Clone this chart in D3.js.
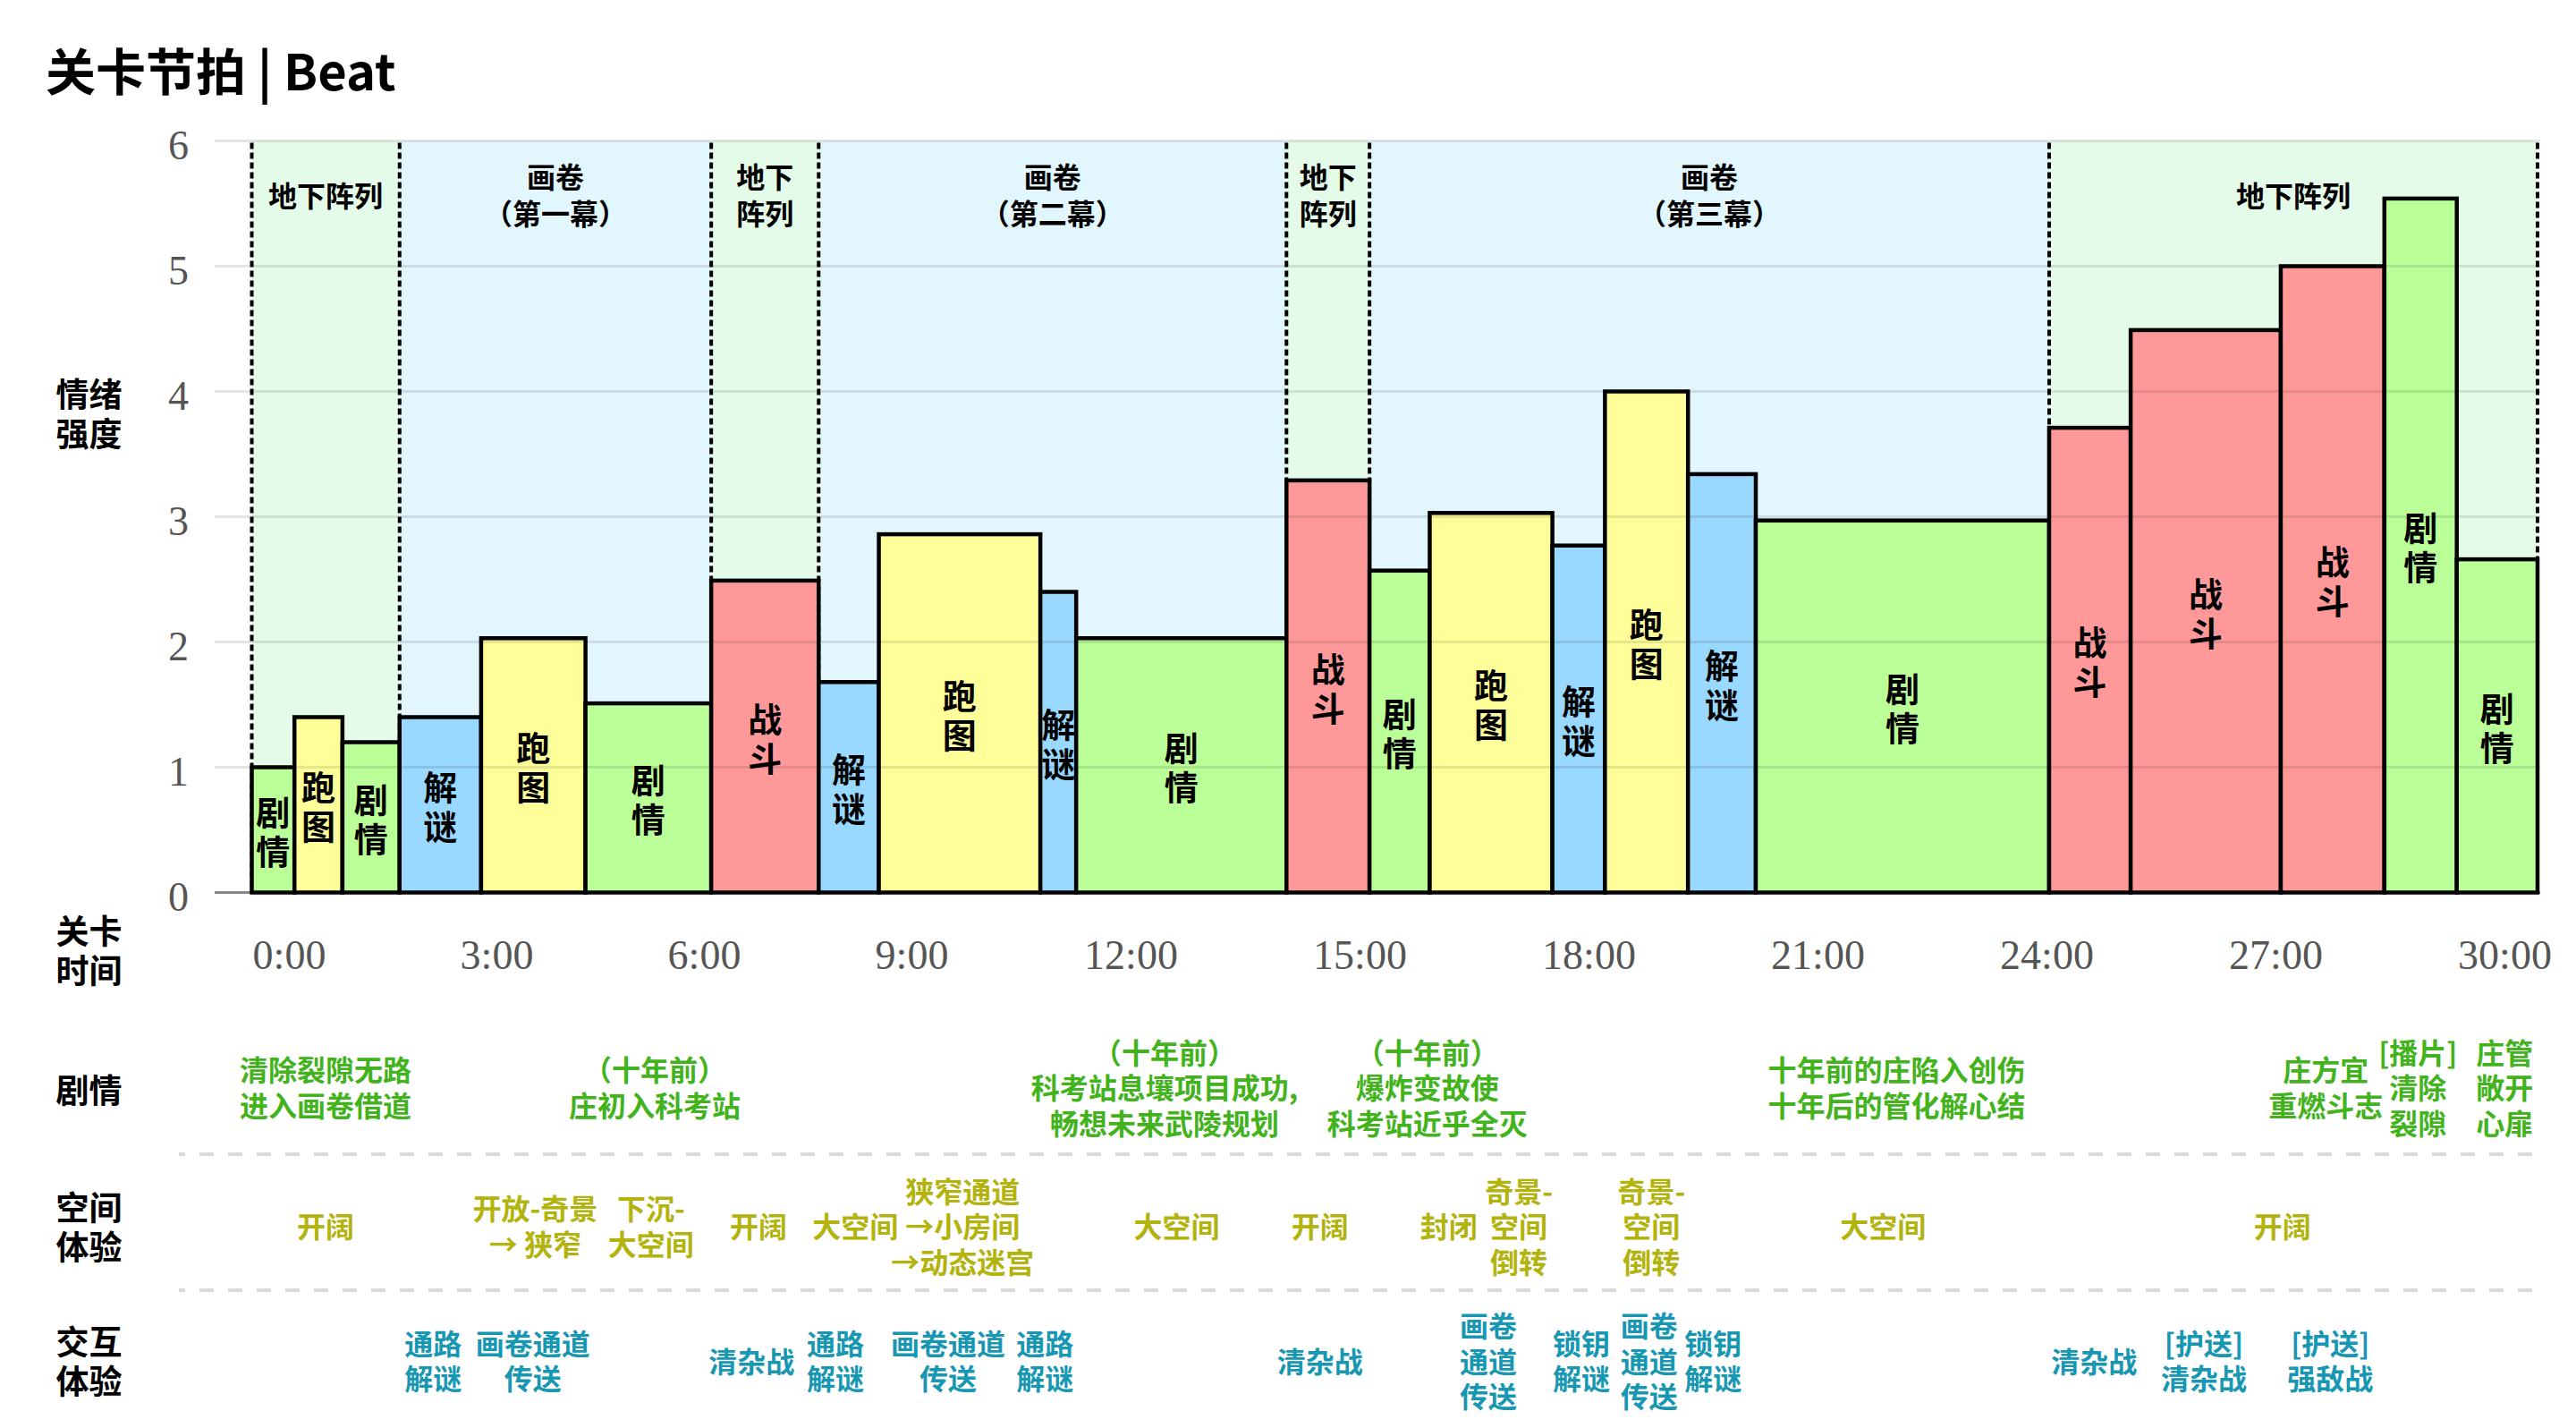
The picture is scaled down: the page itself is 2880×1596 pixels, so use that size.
<!DOCTYPE html>
<html><head><meta charset="utf-8">
<script src="https://cdn.jsdelivr.net/npm/d3@7"></script>
<style>html,body{margin:0;padding:0;background:#fff;}svg{display:block;}</style>
</head><body>
<svg id="chart" width="2880" height="1596"></svg>
<script>
// ---------- DATA ----------
const beatTypes = ["剧情","跑图","剧情","解谜","跑图","剧情","战斗","解谜","跑图","解谜","剧情","战斗",
                   "剧情","跑图","解谜","跑图","解谜","剧情","战斗","战斗","战斗","剧情","剧情"];
// duration of each beat, minutes
const beatDurations = [0.56,0.63,0.75,1.07,1.37,1.65,1.41,0.79,2.12,0.47,2.76,1.09,
                       0.79,1.61,0.69,1.09,0.89,3.85,1.07,1.97,1.36,0.95,1.06];
// emotional intensity of each beat
const beatIntensity = [1.0,1.4,1.2,1.4,2.03,1.51,2.49,1.68,2.86,2.4,2.03,3.29,
                       2.57,3.03,2.77,4.0,3.34,2.97,3.71,4.49,5.0,5.54,2.66];

const zoneLabels = ["地下阵列","画卷\n（第一幕）","地下\n阵列","画卷\n（第二幕）","地下\n阵列","画卷\n（第三幕）","地下阵列"];
const zoneKinds  = ["地下阵列","画卷","地下阵列","画卷","地下阵列","画卷","地下阵列"];
const zoneBeatCounts = [3,3,1,4,1,6,5];

const yTicks = [0,1,2,3,4,5,6];
const timeTicks = [0,3,6,9,12,15,18,21,24,27,30];
const timeTickLabels = ["0:00","3:00","6:00","9:00","12:00","15:00","18:00","21:00","24:00","27:00","30:00"];

const storyTimes = [0.97,5.29,11.98,15.43,21.59,27.22,28.43,29.57];
const storyTexts = ["清除裂隙无路\n进入画卷借道","（十年前）\n庄初入科考站","（十年前）\n科考站息壤项目成功,\n畅想未来武陵规划",
  "（十年前）\n爆炸变故使\n科考站近乎全灭","十年前的庄陷入创伤\n十年后的管化解心结","庄方宜\n重燃斗志","[播片]\n清除\n裂隙","庄管\n敞开\n心扉"];

const spaceTimes = [0.97,3.72,5.24,6.65,7.92,9.33,12.14,14.02,15.71,16.63,18.37,21.41,26.65];
const spaceTexts = ["开阔","开放-奇景\n→ 狭窄","下沉-\n大空间","开阔","大空间","狭窄通道\n→小房间\n→动态迷宫",
  "大空间","开阔","封闭","奇景-\n空间\n倒转","奇景-\n空间\n倒转","大空间","开阔"];

const interactTimes = [2.38,3.69,6.56,7.66,9.14,10.41,14.02,16.23,17.45,18.34,19.18,24.18,25.62,27.28];
const interactTexts = ["通路\n解谜","画卷通道\n传送","清杂战","通路\n解谜","画卷通道\n传送","通路\n解谜","清杂战",
  "画卷\n通道\n传送","锁钥\n解谜","画卷\n通道\n传送","锁钥\n解谜","清杂战","[护送]\n清杂战","[护送]\n强敌战"];

const rowTitles = ["情绪\n强度","关卡\n时间","剧情","空间\n体验","交互\n体验"];

// ---------- STYLE ----------
const CJK = "'Noto Sans CJK SC','Noto Sans',sans-serif";
const SERIF = "'Liberation Serif','DejaVu Serif',serif";
const beatColor = {"剧情":"#bbff99","跑图":"#ffff99","解谜":"#99d9ff","战斗":"#ff9999"};
const zoneColor = {"地下阵列":"#e4fbe9","画卷":"#e2f6fd"};
const rowColor = {story:"#42b31c", space:"#b3b30e", interact:"#1897b3"};

const svg = d3.select("#chart");
svg.append("rect").attr("width",2880).attr("height",1596).attr("fill","#fff");

const x = d3.scaleLinear().domain([0,30]).range([281.5,2837]);
const y = d3.scaleLinear().domain([0,6]).range([997.5,157.5]);
const xt = d3.scaleLinear().domain([0,9,12,30]).range([323,1019,1264,2800]);

const ends = d3.cumsum(beatDurations);
const beats = beatTypes.map((t,i)=>({type:t, start: i?ends[i-1]:0, end: ends[i], v: beatIntensity[i]}));
let bi = 0;
const zones = zoneLabels.map((lab,i)=>{
  const s = beats[bi].start; bi += zoneBeatCounts[i]; const e = beats[bi-1].end;
  return {label:lab, kind:zoneKinds[i], start:s, end:e};
});

function multiline(g, text, cx, cy, lh, attrs){
  const lines = text.split("\n");
  const t = g.append("text").attr("text-anchor","middle");
  Object.entries(attrs).forEach(([k,v])=>t.attr(k,v));
  lines.forEach((ln,i)=>{
    t.append("tspan").attr("x",cx).attr("y",cy + (i-(lines.length-1)/2)*lh)
      .attr("dominant-baseline","central").text(ln);
  });
  return t;
}

// title
svg.append("text").attr("x",51).attr("y",76).attr("dominant-baseline","central")
  .attr("font-family",CJK).attr("font-weight",700).attr("font-size",56).attr("fill","#000")
  .text("关卡节拍 | Beat");

// zone backgrounds
svg.append("g").selectAll("rect").data(zones).join("rect")
  .attr("x",d=>x(d.start)).attr("width",d=>x(d.end)-x(d.start))
  .attr("y",y(6)).attr("height",y(0)-y(6)).attr("fill",d=>zoneColor[d.kind]);

// baseline
svg.append("line").attr("x1",240).attr("x2",2840).attr("y1",y(0)).attr("y2",y(0))
  .attr("stroke","#888").attr("stroke-width",3);

// zone dashed boundaries
const bounds = [zones[0].start, ...zones.map(d=>d.end)];
svg.append("g").selectAll("line").data(bounds).join("line")
  .attr("x1",d=>x(d)).attr("x2",d=>x(d)).attr("y1",y(6)+2).attr("y2",y(0))
  .attr("stroke","#000").attr("stroke-width",4).attr("stroke-dasharray","7,4");

// bars
svg.append("g").selectAll("rect").data(beats).join("rect")
  .attr("x",d=>x(d.start)).attr("width",d=>x(d.end)-x(d.start))
  .attr("y",d=>y(d.v)).attr("height",d=>y(0)-y(d.v))
  .attr("fill",d=>beatColor[d.type]).attr("stroke","#000").attr("stroke-width",4.5);

// gridlines (over bars, translucent)
svg.append("g").selectAll("line").data(yTicks.filter(d=>d>0)).join("line")
  .attr("x1",240).attr("x2",2840).attr("y1",d=>y(d)).attr("y2",d=>y(d))
  .attr("stroke","rgba(0,0,0,0.1)").attr("stroke-width",3);

// bar labels (vertical)
const bl = svg.append("g");
beats.forEach(d=>{
  multiline(bl, d.type.split("").join("\n"), x((d.start+d.end)/2), (y(d.v)+y(0))/2, 44,
    {"font-family":CJK,"font-weight":700,"font-size":38,"fill":"#000"});
});

// zone labels
const zl = svg.append("g");
zones.forEach(d=>{
  multiline(zl, d.label, x((d.start+d.end)/2), 216.5, 40.5,
    {"font-family":CJK,"font-weight":700,"font-size":32,"fill":"#000"});
});

// y axis
const ya = svg.append("g").attr("transform","translate(211,0)")
  .call(d3.axisLeft(y).tickValues(yTicks).tickFormat(d3.format("d")).tickSize(0).tickPadding(0));
ya.select(".domain").remove();
ya.attr("font-family",SERIF).attr("font-size",46);
ya.selectAll("text").attr("fill","#555").attr("dy","0.43em");

// time axis
const xa = svg.append("g").attr("transform","translate(0,1068)")
  .call(d3.axisBottom(xt).tickValues(timeTicks).tickFormat((d,i)=>timeTickLabels[i]).tickSize(0).tickPadding(0));
xa.select(".domain").remove();
xa.attr("font-family",SERIF).attr("font-size",46);
xa.selectAll("text").attr("fill","#555").attr("y",0).attr("dy","0.33em");

// row titles
const rt = svg.append("g");
const rowTitleY = [461,1061,1217,1370,1520];
rowTitles.forEach((t,i)=>multiline(rt, t, 99.5, rowTitleY[i], 44,
  {"font-family":CJK,"font-weight":700,"font-size":37,"fill":"#000"}));

// separators
svg.append("g").selectAll("line").data([1290,1442]).join("line")
  .attr("x1",200).attr("x2",2838).attr("y1",d=>d).attr("y2",d=>d)
  .attr("stroke","#dadada").attr("stroke-width",4).attr("stroke-dasharray","16,16").attr("stroke-dashoffset",9);

// annotation rows
function row(times, texts, cy, color){
  const g = svg.append("g");
  times.forEach((t,i)=>multiline(g, texts[i], x(t), cy, 39.5,
    {"font-family":CJK,"font-weight":700,"font-size":32,"fill":color}));
}
row(storyTimes, storyTexts, 1214, rowColor.story);
row(spaceTimes, spaceTexts, 1369, rowColor.space);
row(interactTimes, interactTexts, 1519.5, rowColor.interact);
</script>
</body></html>
